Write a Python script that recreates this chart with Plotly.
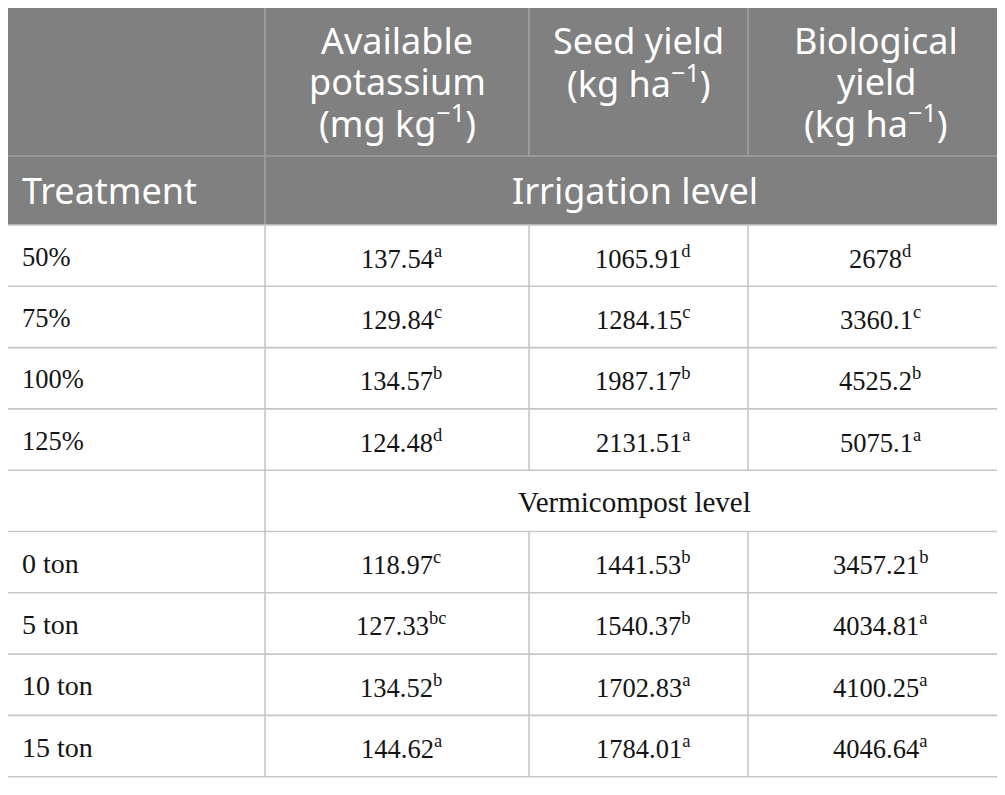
import plotly.graph_objects as go

# ---------------- data ----------------
columns = [["Available", "potassium", "(mg kg<sup>−1</sup>)"],
           ["Seed yield", "(kg ha<sup>−1</sup>)"],
           ["Biological", "yield", "(kg ha<sup>−1</sup>)"]]
first_header = "Treatment"
group_irrigation = "Irrigation level"
group_vermi = "Vermicompost level"

irrigation_levels = ["50%", "75%", "100%", "125%"]
irr_potassium = ["137.54", "129.84", "134.57", "124.48"]
irr_potassium_sig = ["a", "c", "b", "d"]
irr_seed = ["1065.91", "1284.15", "1987.17", "2131.51"]
irr_seed_sig = ["d", "c", "b", "a"]
irr_bio = ["2678", "3360.1", "4525.2", "5075.1"]
irr_bio_sig = ["d", "c", "b", "a"]

vermi_levels = ["0 ton", "5 ton", "10 ton", "15 ton"]
ver_potassium = ["118.97", "127.33", "134.52", "144.62"]
ver_potassium_sig = ["c", "bc", "b", "a"]
ver_seed = ["1441.53", "1540.37", "1702.83", "1784.01"]
ver_seed_sig = ["b", "b", "a", "a"]
ver_bio = ["3457.21", "4034.81", "4100.25", "4046.64"]
ver_bio_sig = ["b", "a", "a", "a"]

# ---------------- layout geometry (reference pixel space) ----------------
W, H = 1005, 795
OFF = 8  # page body margin
col_edges = [0, 265, 529, 748, 1004]
top = 4
h1_bottom = 156
h2_bottom = 225
row_h = 61.3
n_rows = 9
row_edges = [h2_bottom + i * row_h for i in range(n_rows + 1)]

HEADER_FILL = "#808080"
HEADER_LINE = "#a0a0a0"
GRID = "#c6c6c6"
SANS = "Noto Sans"
SERIF = "Liberation Serif"
HFS = 36
DFS = 26.5
LFS = 28
VFS = 29
TXT = "#141414"

header_baselines = [54, 95, 135]
h2_baseline = 204
MID = 0.388 * HFS  # baseline -> box middle offset for Noto Sans

shapes = []
ann = []

def line(x0, y0, x1, y1, color=GRID, w=1.6):
    shapes.append(dict(type="line", xref="x", yref="y", x0=x0, y0=y0, x1=x1, y1=y1,
                       line=dict(color=color, width=w), layer="above"))

shapes.append(dict(type="rect", xref="x", yref="y", x0=col_edges[0], x1=col_edges[-1],
                   y0=top, y1=h2_bottom, fillcolor=HEADER_FILL, line=dict(width=0), layer="below"))

line(col_edges[0], top, col_edges[-1], top, GRID)
line(col_edges[0], h1_bottom, col_edges[-1], h1_bottom, HEADER_LINE)
for x in col_edges[1:-1]:
    line(x, top, x, h1_bottom, HEADER_LINE)
line(col_edges[1], h1_bottom, col_edges[1], h2_bottom, HEADER_LINE)
line(col_edges[-1], top, col_edges[-1], h2_bottom, HEADER_LINE)

labels = irrigation_levels + [""] + vermi_levels
pot = irr_potassium + [None] + ver_potassium
pot_s = irr_potassium_sig + [None] + ver_potassium_sig
seed = irr_seed + [None] + ver_seed
seed_s = irr_seed_sig + [None] + ver_seed_sig
bio = irr_bio + [None] + ver_bio
bio_s = irr_bio_sig + [None] + ver_bio_sig

for y in row_edges:
    line(col_edges[0], y, col_edges[-1], y, GRID)
for i in range(n_rows):
    y0, y1 = row_edges[i], row_edges[i + 1]
    line(col_edges[1], y0, col_edges[1], y1)
    line(col_edges[-1], y0, col_edges[-1], y1)
    if pot[i] is not None:
        line(col_edges[2], y0, col_edges[2], y1)
        line(col_edges[3], y0, col_edges[3], y1)

# header texts
for j, lines in enumerate(columns):
    xc = (col_edges[j + 1] + col_edges[j + 2]) / 2
    for k, txt in enumerate(lines):
        ann.append(dict(x=xc, y=header_baselines[k] - MID, text=txt,
                        xanchor="center", yanchor="middle", showarrow=False,
                        font=dict(family=SANS, size=HFS, color="white")))
ann.append(dict(x=col_edges[0] + 20, y=h2_baseline - MID, text=first_header,
                xanchor="left", yanchor="middle", showarrow=False,
                font=dict(family=SANS, size=HFS, color="white")))
ann.append(dict(x=(col_edges[1] + col_edges[-1]) / 2, y=h2_baseline - MID,
                text=group_irrigation, xanchor="center", yanchor="middle", showarrow=False,
                font=dict(family=SANS, size=HFS, color="white")))

def sig(v, s):
    return f"{v}<sup>{s}</sup>"

for i in range(n_rows):
    yc = (row_edges[i] + row_edges[i + 1]) / 2 + 1
    if labels[i]:
        size = LFS if "ton" in labels[i] else DFS
        ann.append(dict(x=col_edges[0] + 20, y=yc, text=labels[i], xanchor="left",
                        yanchor="middle", showarrow=False,
                        font=dict(family=SERIF, size=size, color=TXT)))
    if pot[i] is None:
        ann.append(dict(x=(col_edges[1] + col_edges[-1]) / 2, y=yc, text=group_vermi,
                        xanchor="center", yanchor="middle", showarrow=False,
                        font=dict(family=SERIF, size=VFS, color=TXT)))
        continue
    for j, (v, s) in enumerate([(pot[i], pot_s[i]), (seed[i], seed_s[i]), (bio[i], bio_s[i])]):
        ann.append(dict(x=(col_edges[j + 1] + col_edges[j + 2]) / 2 + 4, y=yc, text=sig(v, s),
                        xanchor="center", yanchor="middle", showarrow=False,
                        font=dict(family=SERIF, size=DFS, color=TXT)))

fig = go.Figure()
fig.update_layout(
    width=W - OFF, height=H - OFF, margin=dict(l=0, r=0, t=0, b=0),
    paper_bgcolor="white", plot_bgcolor="white",
    xaxis=dict(range=[OFF, W], visible=False, fixedrange=True),
    yaxis=dict(range=[H, OFF], visible=False, fixedrange=True),
    shapes=shapes, annotations=ann, showlegend=False,
)
fig.write_html("out.html")
